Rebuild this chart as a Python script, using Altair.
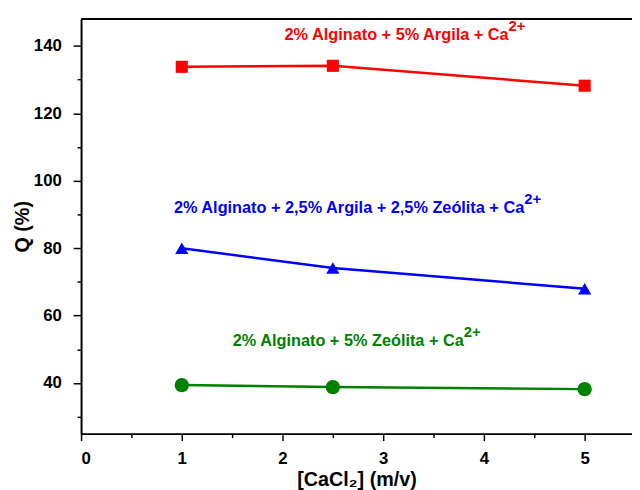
import altair as alt
import pandas as pd

# data
cacl2 = [1, 2.5, 5]
series_names = ["Argila", "Mista", "Zeolita"]
q_argila = [133.8, 134.1, 128.2]
q_mista = [80.0, 74.1, 68.0]
q_zeolita = [39.4, 38.8, 38.2]
colors = ["#ff0000", "#0000ff", "#008000"]
shapes = ["square", "triangle-up", "circle"]
marker_sizes = [150, 210, 150]

label_main = ["2% Alginato + 5% Argila + Ca",
              "2% Alginato + 2,5% Argila + 2,5% Zeólita + Ca",
              "2% Alginato + 5% Zeólita + Ca"]
label_sup = ["2+", "2+", "2+"]
label_x = [4.245, 4.40, 3.80]
label_y = [143.3, 92.0, 52.6]

x_ticks = [0, 0.5, 1, 1.5, 2, 2.5, 3, 3.5, 4, 4.5, 5]
y_ticks = [30, 40, 50, 60, 70, 80, 90, 100, 110, 120, 130, 140]
x_dom = [0, 5.47]
y_dom = [25, 148]

FONT = "Liberation Sans Narrow, Arial Narrow, Liberation Sans, Arial"

rows = []
for name, vals in zip(series_names, [q_argila, q_mista, q_zeolita]):
    for xv, yv in zip(cacl2, vals):
        rows.append({"s": name, "x": xv, "q": yv})
df = pd.DataFrame(rows)
lab = pd.DataFrame({"s": series_names, "t": label_main, "sup": label_sup,
                    "x": label_x, "q": label_y})
topdf = pd.DataFrame({"q": [y_dom[1]]})

W, H = 558, 420
xs = alt.Scale(domain=x_dom, nice=False, zero=False)
ys = alt.Scale(domain=y_dom, nice=False, zero=False)
cs = alt.Scale(domain=series_names, range=colors)
ss = alt.Scale(domain=series_names, range=shapes)
zs = alt.Scale(domain=series_names, range=marker_sizes)

xaxis = alt.Axis(values=x_ticks, labelOverlap=False,
                 labelExpr="datum.value % 1 == 0 ? format(datum.value, 'd') : ''",
                 tickSize={"condition": {"test": "datum.value % 1 == 0", "value": 7}, "value": 4},
                 labelPadding=10,
                 title="[CaCl₂] (m/v)", titleFontSize=20, titlePadding=4)
yaxis = alt.Axis(values=y_ticks, labelOverlap=False,
                 labelExpr="datum.value % 20 == 0 ? format(datum.value, 'd') : ''",
                 tickSize={"condition": {"test": "datum.value % 20 == 0", "value": 8}, "value": 4},
                 labelPadding=12,
                 title="Q (%)", titleFontSize=20, titlePadding=1)

X = alt.X("x:Q", scale=xs, axis=xaxis)
Y = alt.Y("q:Q", scale=ys, axis=yaxis)
C = alt.Color("s:N", scale=cs, legend=None)

base = alt.Chart(df).encode(x=X, y=Y, color=C)
lines = base.mark_line(strokeWidth=2.5)
pts = base.mark_point(filled=True, opacity=1).encode(
    shape=alt.Shape("s:N", scale=ss, legend=None),
    size=alt.Size("s:N", scale=zs, legend=None))

lb = alt.Chart(lab).encode(x=X, y=Y, color=C)
t_main = lb.mark_text(align="right", baseline="middle", font=FONT,
                      fontWeight="bold", fontSize=16.5).encode(text="t:N")
t_sup = lb.mark_text(align="left", baseline="middle", font=FONT, dy=-9, dx=0,
                     fontWeight="bold", fontSize=15).encode(text="sup:N")

top = alt.Chart(topdf).mark_rule(color="black", strokeWidth=2).encode(
    y=Y, x=alt.value(0), x2=alt.value(W))

chart = alt.layer(lines, pts, top, t_main, t_sup).properties(
    width=W, height=H,
    autosize=alt.AutoSizeParams(type="none"),
    padding={"left": 74, "top": 8, "right": 0, "bottom": 54},
).configure_view(stroke=None).configure_axis(
    grid=False, domainColor="black", domainWidth=2, tickColor="black",
    tickWidth=1.5, labelFont=FONT, labelFontWeight="bold",
    labelFontSize=17, labelColor="black", titleFont=FONT,
    titleFontWeight="bold", titleColor="black",
)

chart.save("out.html", embed_options={"renderer": "svg", "actions": False})
